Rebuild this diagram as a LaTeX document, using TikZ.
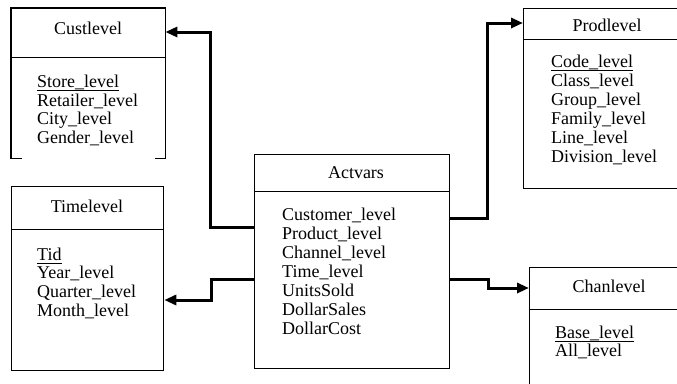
\documentclass[tikz,border=0pt]{standalone}
\usepackage{fontspec}
\setmainfont{Liberation Serif}
\usetikzlibrary{arrows.meta,calc}
\begin{document}
\begin{tikzpicture}[x=1pt,y=-1pt,
  box/.style={draw, line width=1.3pt, inner sep=0pt, anchor=north west},
  shell/.style={inner sep=0pt, anchor=north west},
  outline/.style={line width=1.3pt},
  divider/.style={line width=1pt},
  hdr/.style={inner sep=0pt, anchor=base, font=\fontsize{18}{19}\selectfont},
  item/.style={inner sep=0pt, anchor=base west, font=\fontsize{18}{19}\selectfont},
  key/.style={line width=0.9pt},
  conn/.style={line width=3pt, line join=miter, -{Triangle[length=12pt,width=10pt]}}]
\useasboundingbox (0,0) rectangle (677,383);
\clip (0,0) rectangle (677,383);
\fill[white] (0,0) rectangle (677,383);

% boxes
\node[shell, minimum width=154pt, minimum height=150pt] (cust) at (11,8) {};
\node[box, minimum width=152pt, minimum height=184pt] (time) at (11,186) {};
\node[box, minimum width=195pt, minimum height=214pt] (act) at (254,154) {};
\node[box, minimum width=170pt, minimum height=180pt] (prod) at (523,8) {};
\node[box, minimum width=170pt, minimum height=125pt] (chan) at (529,267) {};

\draw[outline] ($(cust.south west)+(11,0)$) -- (cust.south west) -- (cust.north west)
  -- (cust.north east) -- (cust.south east) -- ($(cust.south east)+(-10,0)$);

% dividers
\draw[divider] ($(cust.north west)+(0,49)$) -- ($(cust.north east)+(0,49)$);
\draw[divider] ($(time.north west)+(0,43)$) -- ($(time.north east)+(0,43)$);
\draw[divider] ($(act.north west)+(0,37)$) -- ($(act.north east)+(0,37)$);
\draw[divider] ($(prod.north west)+(0,31)$) -- ($(prod.north east)+(0,31)$);
\draw[divider] ($(chan.north west)+(0,42)$) -- ($(chan.north east)+(0,42)$);

% headers
\node[hdr] (custh) at (88,34) {Custlevel};
\node[hdr] (timeh) at (87,212) {Timelevel};
\node[hdr] (acth) at (356,178) {Actvars};
\node[hdr] (prodh) at (607,31) {Prodlevel};
\node[hdr] (chanh) at (609,292) {Chanlevel};

% Custlevel items
\node[item] (c1) at (37,87) {Store\_level};
\node[item] (c2) at (37,106) {Retailer\_level};
\node[item] (c3) at (37,124.5) {City\_level};
\node[item] (c4) at (37,143) {Gender\_level};
\draw[key] ([yshift=-3pt]c1.base west) -- ([yshift=-3pt]c1.base east);

% Timelevel items
\node[item] (t1) at (37,260) {Tid};
\node[item] (t2) at (37,278.5) {Year\_level};
\node[item] (t3) at (37,297) {Quarter\_level};
\node[item] (t4) at (37,316) {Month\_level};
\draw[key] ([yshift=-3pt]t1.base west) -- ([yshift=-3pt]t1.base east);

% Actvars items
\node[item] (a1) at (282,220) {Customer\_level};
\node[item] (a2) at (282,239) {Product\_level};
\node[item] (a3) at (282,258) {Channel\_level};
\node[item] (a4) at (282,277) {Time\_level};
\node[item] (a5) at (282,296) {UnitsSold};
\node[item] (a6) at (282,315) {DollarSales};
\node[item] (a7) at (282,334) {DollarCost};

% Prodlevel items
\node[item] (p1) at (551,67) {Code\_level};
\node[item] (p2) at (551,86) {Class\_level};
\node[item] (p3) at (551,105) {Group\_level};
\node[item] (p4) at (551,124) {Family\_level};
\node[item] (p5) at (551,143) {Line\_level};
\node[item] (p6) at (551,162) {Division\_level};
\draw[key] ([yshift=-3pt]p1.base west) -- ([yshift=-3pt]p1.base east);

% Chanlevel items
\node[item] (h1) at (555,338) {Base\_level};
\node[item] (h2) at (555,356.5) {All\_level};
\draw[key] ([yshift=-3pt]h1.base west) -- ([yshift=-3pt]h1.base east);

% connectors
\draw[conn] ($(act.north west)+(0,73)$) -| ($(cust.north east)+(45,24)$) -- ($(cust.north east)+(0,24)$);
\draw[conn] ($(act.north west)+(0,125)$) -| ($(time.north east)+(47,114)$) -- ($(time.north east)+(0,114)$);
\draw[conn] ($(act.north east)+(0,64)$) -| ($(prod.north west)+(-36,15)$) -- ($(prod.north west)+(0,15)$);
\draw[conn] ($(act.north east)+(0,125)$) -| ($(chan.north west)+(-41,21)$) -- ($(chan.north west)+(0,21)$);
\end{tikzpicture}
\end{document}
